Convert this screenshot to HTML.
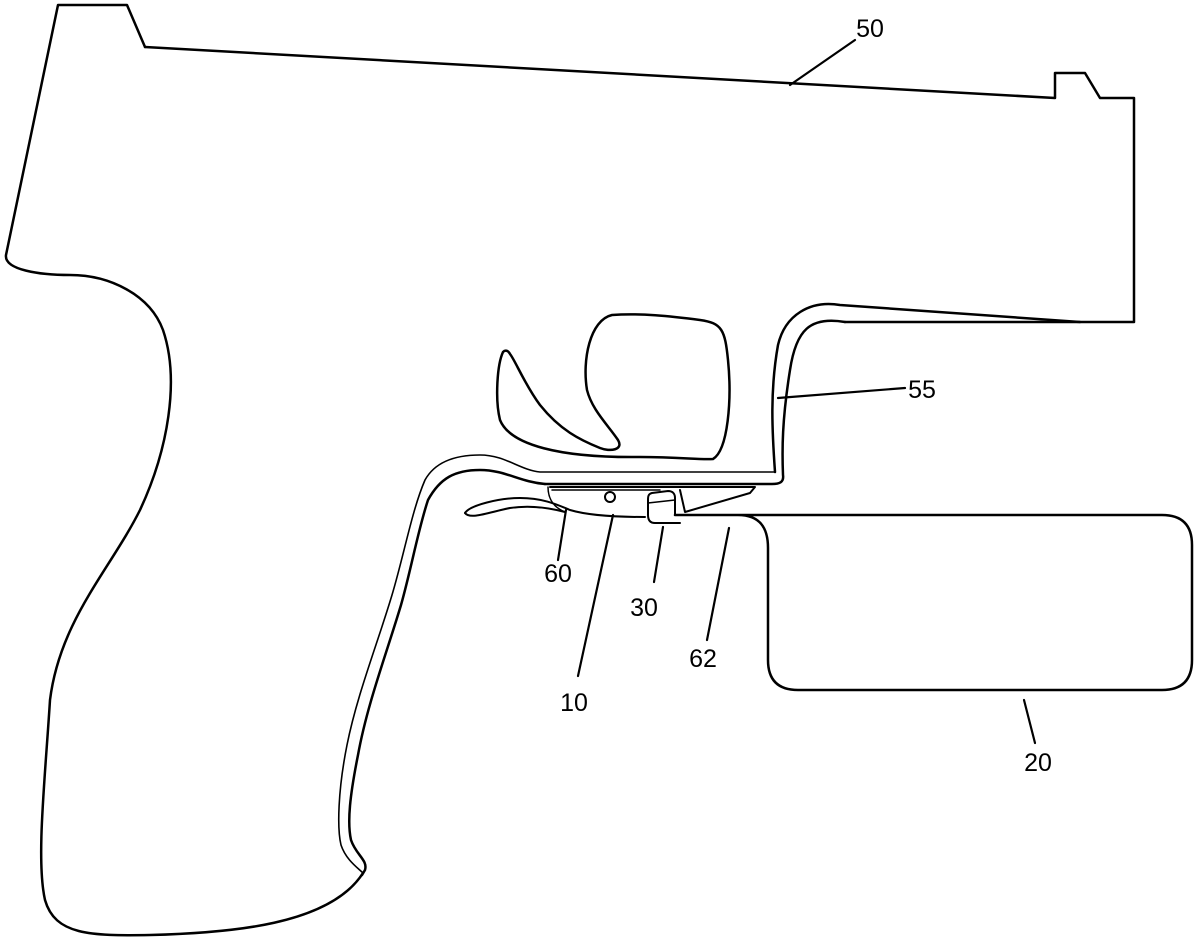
<!DOCTYPE html>
<html><head><meta charset="utf-8"><style>
html,body{margin:0;padding:0;background:#fff;}
svg{display:block;}
text{font-family:"Liberation Sans",Arial,sans-serif;font-size:25px;fill:#000;text-anchor:middle;}
</style></head><body>
<svg width="1200" height="945" viewBox="0 0 1200 945" fill="none" stroke="#000" stroke-width="2.5" stroke-linejoin="round" stroke-linecap="round">
<!-- main outline: slide + rear grip -->
<path d="M145,47 L127,5 L58,5 L6,255 C4,270 40,275 70,275 C110,275 150,295 163,330 C180,380 168,450 140,510 C110,570 60,620 50,700 C45,780 36,860 45,900 C55,935 90,936 150,935 C230,933 330,925 363,873"/>
<path d="M145,47 L1055,98 L1055,73 L1085,73 L1100,98 L1134,98 L1134,322 L845,322"/>
<path d="M1080,322 L840,305 C810,300 785,315 778,345 C770,390 772,430 775,472"/>
<!-- trigger guard -->
<path d="M845,322 C810,316 796,330 790,370 C782,420 782,450 783,475 C784,482 780,484 772,484 L545,484"/>
<path d="M775,472 L540,472 C520,470 505,455 480,455 C455,455 435,462 425,480 C412,510 404,555 392,595 C377,645 357,695 347,745 C338,790 337,828 341,845 C346,860 358,868 363,873" stroke-width="1.6"/>
<path d="M545,484 C520,482 505,470 480,470 C455,470 440,478 428,500 C418,530 411,570 401,605 C386,655 367,705 358,755 C350,795 347,822 351,840 C356,855 368,860 365,870 L362,875"/>
<!-- trigger shape -->
<path d="M503,352 C497,365 495,400 500,420 C510,445 560,458 640,457 C680,457 700,460 713,459 C728,450 732,400 728,360 C725,330 722,323 700,320 C670,316 640,313 612,315 C590,320 582,360 587,390 C592,410 608,425 618,440 C624,450 610,452 600,448 C580,440 560,430 540,405 C525,385 515,360 510,354 C508,350 505,350 503,352 Z"/>
<!-- trigger shoe -->
<path d="M550,487 L755,487 L750,493 L685,512 L680,490" stroke-width="2"/>
<path d="M552,490 L660,490 M548,487 C548,500 555,508 565,512" stroke-width="1.5"/>
<path d="M465,513 C470,505 500,498 520,498 C545,498 560,506 570,510 C590,516 620,517 645,517" stroke-width="2"/>
<path d="M465,513 C470,520 490,512 510,508 C530,505 550,508 565,512" stroke-width="2"/>
<circle cx="610" cy="497" r="5" stroke-width="2"/>
<path d="M652,493 L668,491 C673,491 675,494 675,498 L675,515 M652,493 C648,494 648,497 648,500 L648,515 C648,520 650,523 655,523 L680,523" stroke-width="2"/>
<path d="M648,503 L675,500" stroke-width="1.5"/>
<!-- box 20 -->
<path d="M675,515 L738,515 C760,515 768,528 768,548 V660 Q768,690 798,690 H1162 Q1192,690 1192,660 V545 Q1192,515 1162,515 H738"/>
<!-- leaders -->
<g stroke-width="2.2">
<line x1="855" y1="40" x2="790" y2="85"/>
<line x1="905" y1="388" x2="778" y2="398"/>
<line x1="566" y1="510" x2="558" y2="560"/>
<line x1="613" y1="515" x2="578" y2="676"/>
<line x1="663" y1="527" x2="654" y2="582"/>
<line x1="729" y1="528" x2="707" y2="640"/>
<line x1="1024" y1="700" x2="1035" y2="743"/>
</g>
<g stroke="none">
<text x="870" y="37">50</text>
<text x="922" y="398">55</text>
<text x="558" y="582">60</text>
<text x="644" y="616">30</text>
<text x="703" y="667">62</text>
<text x="574" y="711">10</text>
<text x="1038" y="771">20</text>
</g>
</svg>
</body></html>
